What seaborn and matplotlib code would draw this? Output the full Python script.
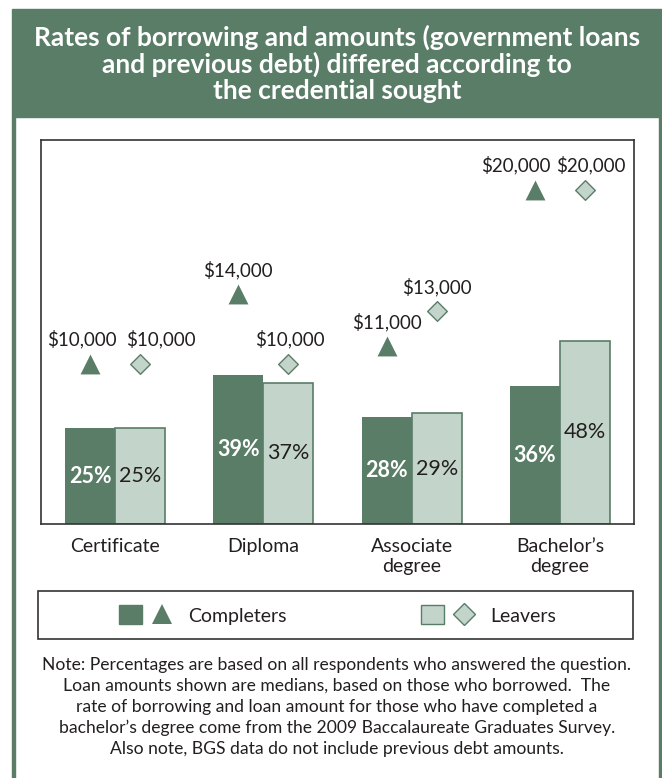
import numpy as np
import pandas as pd
import matplotlib
matplotlib.use("Agg")
import matplotlib.pyplot as plt
from matplotlib.patches import Rectangle, Patch
from matplotlib.lines import Line2D
from matplotlib.legend_handler import HandlerTuple
import seaborn as sns

# values
credentials = ["Certificate", "Diploma", "Associate\ndegree", "Bachelor\u2019s\ndegree"]
groups = ["Completers", "Leavers"]
completer_rates = [25, 39, 28, 36]
leaver_rates = [25, 37, 29, 48]
completer_amounts = [10000, 14000, 11000, 20000]
leaver_amounts = [10000, 10000, 13000, 20000]

title = ("Rates of borrowing and amounts (government loans\n"
         "and previous debt) differed according to\n"
         "the credential sought")
note = ("Note: Percentages are based on all respondents who answered the question.\n"
        "Loan amounts shown are medians, based on those who borrowed.  The\n"
        "rate of borrowing and loan amount for those who have completed a\n"
        "bachelor\u2019s degree come from the 2009 Baccalaureate Graduates Survey.\n"
        "Also note, BGS data do not include previous debt amounts.")

# label nudges (points) so neighbouring dollar labels don't collide
comp_label_dx = [-6, 0, 0, -14]
leav_label_dx = [15, 1, 0, 4]

DARK = "#5a7d68"
LIGHT = "#c3d5cb"
TEXT = "#231f20"
W, H = 662, 778


def fx(x):
    return x / W


def fy(y):
    return 1 - y / H


sns.set_theme(style="white")
plt.rcParams["font.family"] = ["Lato", "DejaVu Sans"]

fig = plt.figure(figsize=(W / 100, H / 100), dpi=100)

# green header band and side rules
fig.patches.append(Rectangle((fx(12), fy(117)), fx(662) - fx(12), fy(9) - fy(117),
                             transform=fig.transFigure, color=DARK, zorder=0))
for x0 in (12, 659):
    fig.patches.append(Rectangle((fx(x0), 0), fx(3), fy(117),
                                 transform=fig.transFigure, color=DARK, zorder=0))
fig.text(fx(337), fy(64), title, ha="center", va="center", color="white",
         fontsize=19, fontweight="bold", linespacing=1.1)

df = pd.DataFrame({
    "credential": credentials * 2,
    "group": [g for g in groups for _ in credentials],
    "rate": completer_rates + leaver_rates,
})

ax = fig.add_axes([fx(41), fy(524), fx(634) - fx(41), fy(140) - fy(524)])
sns.barplot(data=df, x="credential", y="rate", hue="group", palette=[DARK, LIGHT],
            width=0.675, saturation=1, ax=ax, legend=False)

for bar in ax.containers[0]:
    bar.set_linewidth(0)
for bar in ax.containers[1]:
    bar.set_edgecolor(DARK)
    bar.set_linewidth(1.2)

comp_x = [p.get_x() + p.get_width() / 2 for p in ax.containers[0]]
leav_x = [p.get_x() + p.get_width() / 2 for p in ax.containers[1]]

for x, v in zip(comp_x, completer_rates):
    ax.text(x, v / 2, f"{v}%", ha="center", va="center", color="white",
            fontsize=15.5, fontweight="bold")
for x, v in zip(leav_x, leaver_rates):
    ax.text(x, v / 2, f"{v}%", ha="center", va="center", color=TEXT, fontsize=15.5)

# loan amounts on their own scale
ax2 = ax.twinx()
sns.scatterplot(x=comp_x, y=completer_amounts, marker="^", s=205, color=DARK,
                linewidth=0, ax=ax2, zorder=3)
sns.scatterplot(x=leav_x, y=leaver_amounts, marker="D", s=100, color=LIGHT,
                edgecolor=DARK, linewidth=1, ax=ax2, zorder=3)
for xs, vals, dxs in ((comp_x, completer_amounts, comp_label_dx),
                      (leav_x, leaver_amounts, leav_label_dx)):
    for x, v, dx in zip(xs, vals, dxs):
        ax2.annotate(f"${v:,}", (x, v), xytext=(dx, 17.5), textcoords="offset points",
                     ha="center", va="center", fontsize=13.5, color=TEXT)
ax2.set_ylim(776, 22845)
ax2.set_yticks([])
for s in ax2.spines.values():
    s.set_visible(False)

ax.set_xlim(-0.5, 3.5)
ax.set_ylim(0, 100.5)
ax.set_yticks([])
ax.set_xlabel("")
ax.set_ylabel("")
ax.tick_params(axis="x", length=0, pad=10, labelsize=14, labelcolor=TEXT)
for s in ax.spines.values():
    s.set_color("#333333")
    s.set_linewidth(1.2)

# legend inside its own box
fig.patches.append(Rectangle((fx(38), fy(639)), fx(633) - fx(38), fy(591) - fy(639),
                             transform=fig.transFigure, facecolor="none",
                             edgecolor="#333333", linewidth=1.2))
handles = [
    (Patch(facecolor=DARK, edgecolor=DARK),
     Line2D([], [], marker="^", linestyle="none", markersize=14.4, color=DARK,
            markeredgewidth=0)),
    (Patch(facecolor=LIGHT, edgecolor=DARK, linewidth=1),
     Line2D([], [], marker="D", linestyle="none", markersize=11, markerfacecolor=LIGHT,
            markeredgecolor=DARK, markeredgewidth=1)),
]
fig.legend(handles, groups, handler_map={tuple: HandlerTuple(ndivide=None, pad=0.41)},
           loc="center", bbox_to_anchor=(fx(119), fy(639), fx(556) - fx(119), fy(591) - fy(639)),
           mode="expand", ncol=2, frameon=False, borderaxespad=0, borderpad=0,
           fontsize=14, handlelength=2.78, handleheight=1.13, handletextpad=0.77,
           labelcolor=TEXT)

fig.text(fx(337), fy(707), note, ha="center", va="center", color=TEXT,
         fontsize=12.6, linespacing=1.39)

fig.savefig("out.png", dpi=100)
